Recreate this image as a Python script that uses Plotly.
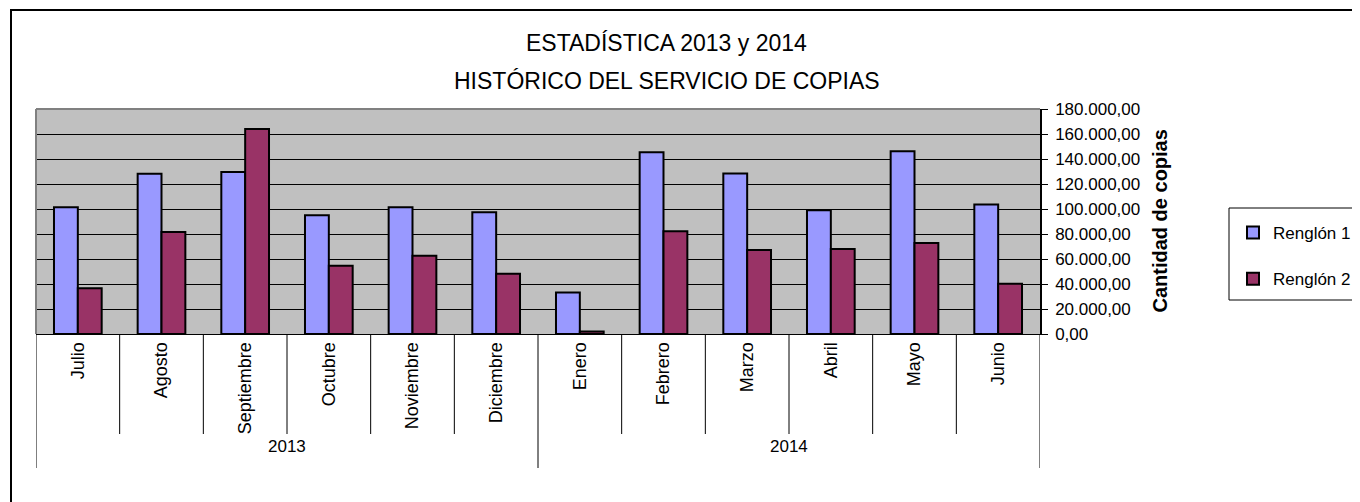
import plotly.graph_objects as go

months = ["Julio", "Agosto", "Septiembre", "Octubre", "Noviembre", "Diciembre",
          "Enero", "Febrero", "Marzo", "Abril", "Mayo", "Junio"]
years = ["2013", "2014"]
renglon1 = [101500, 128200, 129600, 95000, 101400, 97400,
            33200, 145400, 128500, 99000, 146200, 103600]
renglon2 = [36600, 81600, 164100, 54600, 62700, 48200,
            2100, 82200, 67200, 68000, 72800, 40200]
y_ticks = [0, 20000, 40000, 60000, 80000, 100000, 120000, 140000, 160000, 180000]
y_ticktext = ["0,00", "20.000,00", "40.000,00", "60.000,00", "80.000,00", "100.000,00",
              "120.000,00", "140.000,00", "160.000,00", "180.000,00"]

FONT = "Liberation Sans, Arial, sans-serif"
OFF = 8  # page body margin
W, H = 1360, 502
# plot area in page pixels
PX0, PX1, PY0, PY1 = 36, 1040, 109, 334
L = PX0 - OFF
T = PY0 - OFF
R = W - (PX1 - OFF)
B = H - (PY1 - OFF)
pw = PX1 - PX0
ph = PY1 - PY0

def px_y(py):
    return (PY1 - py) / ph

def px_x(px):
    return (px - PX0) / pw

fig = go.Figure()
fig.add_trace(go.Bar(x=months, y=renglon1, name="Renglón 1",
                     marker=dict(color="#9999FF", line=dict(color="black", width=2)),
                     legendgroup="a"))
fig.add_trace(go.Bar(x=months, y=renglon2, name="Renglón 2",
                     marker=dict(color="#993366", line=dict(color="black", width=2)),
                     legendgroup="b"))

shapes = []
n = len(months)
for k in range(n + 1):
    xb = k - 0.5
    is_year = k in (0, 6, 12)
    y_end = 468 if is_year else 434
    shapes.append(dict(type="line", xref="x", yref="paper", x0=xb, x1=xb,
                       y0=0, y1=px_y(y_end), line=dict(color="black", width=1)))
# plot-area gray top/left border
shapes.append(dict(type="line", xref="paper", yref="paper", x0=0, x1=1, y0=1, y1=1,
                   line=dict(color="#808080", width=2)))
shapes.append(dict(type="line", xref="paper", yref="paper", x0=0, x1=0, y0=0, y1=1,
                   line=dict(color="#808080", width=2)))
# outer chart border
shapes.append(dict(type="rect", xref="paper", yref="paper",
                   x0=px_x(11), x1=px_x(1400), y0=px_y(10), y1=px_y(540),
                   line=dict(color="black", width=2), fillcolor="rgba(0,0,0,0)"))
# legend box
shapes.append(dict(type="rect", xref="paper", yref="paper",
                   x0=px_x(1229), x1=px_x(1361), y0=px_y(208), y1=px_y(300),
                   line=dict(color="black", width=1), fillcolor="white", layer="below"))

annotations = [
    dict(text="ESTADÍSTICA 2013 y 2014", x=px_x(666), y=px_y(43), xref="paper", yref="paper",
         xanchor="center", yanchor="middle", showarrow=False,
         font=dict(family=FONT, size=23, color="black")),
    dict(text="HISTÓRICO DEL SERVICIO DE COPIAS", x=px_x(667), y=px_y(81), xref="paper",
         yref="paper", xanchor="center", yanchor="middle", showarrow=False,
         font=dict(family=FONT, size=23, color="black")),
    dict(text="<b>Cantidad de copias</b>", x=px_x(1159), y=px_y(221.5), xref="paper",
         yref="paper", xanchor="center", yanchor="middle", textangle=-90, showarrow=False,
         font=dict(family=FONT, size=20, color="black")),
    dict(text=years[0], x=2.5, y=px_y(458), xref="x", yref="paper",
         showarrow=False, font=dict(family=FONT, size=17, color="black")),
    dict(text=years[1], x=8.5, y=px_y(458), xref="x", yref="paper",
         showarrow=False, font=dict(family=FONT, size=17, color="black")),
]

fig.update_layout(
    width=W, height=H,
    margin=dict(l=L, r=R, t=T, b=B),
    paper_bgcolor="white",
    plot_bgcolor="#C0C0C0",
    barmode="group", bargap=0.43, bargroupgap=0,
    font=dict(family=FONT, size=17, color="black"),
    xaxis=dict(type="category", tickangle=-90, showgrid=False, ticks="",
               showline=True, linecolor="black", linewidth=1,
               range=[-0.5, n - 0.5], tickfont=dict(size=18)),
    yaxis=dict(side="right", range=[0, 180000], tickvals=y_ticks, ticktext=y_ticktext,
               showgrid=True, gridcolor="black", gridwidth=1,
               ticks="outside", ticklen=6, tickcolor="black", ticklabelstandoff=4,
               showline=True, linecolor="black", linewidth=1.5, zeroline=False,
               tickfont=dict(size=17)),
    legend=dict(x=px_x(1233), xanchor="left", y=px_y(215), yanchor="top",
                borderwidth=0, bgcolor="rgba(0,0,0,0)",
                traceorder="grouped", tracegroupgap=21,
                font=dict(family=FONT, size=17, color="black")),
    shapes=shapes,
    annotations=annotations,
)

fig.write_html("out.html")
